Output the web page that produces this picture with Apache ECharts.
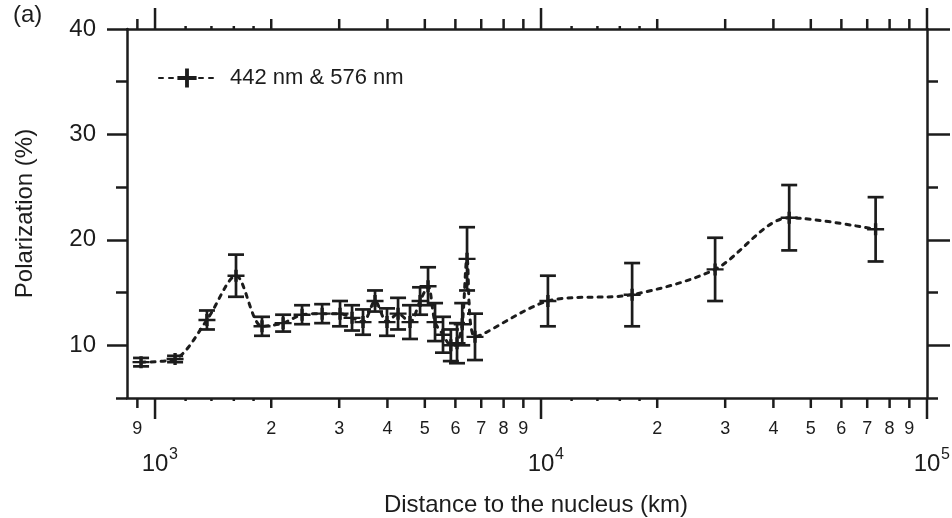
<!DOCTYPE html>
<html>
<head>
<meta charset="utf-8">
<script src="https://cdn.jsdelivr.net/npm/echarts@6/dist/echarts.min.js"></script>
<style>
html, body { margin: 0; padding: 0; background: #fff; }
#chart { width: 952px; height: 518px; }
</style>
</head>
<body>
<div id="chart"></div>
<script>
// distance to the nucleus (km)
var distance = [920, 1127, 1363, 1621, 1893, 2147, 2404, 2710,
    3015, 3239, 3458, 3715, 3990, 4262, 4577, 4860,
    5097, 5314, 5573, 5840, 6059, 6250, 6432, 6745,
    10420, 17220, 28250, 43950, 73600];
// polarization (%)
var polarization = [8.4, 8.7, 12.4, 16.6, 11.8, 12.1, 12.9, 13.0,
    13.0, 12.6, 12.2, 14.2, 12.2, 13.0, 12.2, 14.2,
    15.6, 12.2, 11.0, 10.0, 10.2, 12.0, 18.2, 10.8,
    14.2, 14.8, 17.2, 22.1, 21.0];
// error bar half height (%)
var polError = [0.4, 0.3, 0.9, 2.0, 0.9, 0.8, 0.9, 0.9,
    1.2, 1.2, 1.2, 1.0, 1.3, 1.5, 1.6, 1.3,
    1.8, 1.8, 1.7, 1.5, 1.9, 2.0, 3.0, 2.2,
    2.4, 3.0, 3.0, 3.1, 3.05];

// x axis ticks (log)
var decadeTicks = [1000, 10000, 100000];
var decadeExps = ['3', '4', '5'];
var minorTicks = [900, 2000, 3000, 4000, 5000, 6000, 7000, 8000, 9000,
    20000, 30000, 40000, 50000, 60000, 70000, 80000, 90000];
var minorLabels = ['9', '2', '3', '4', '5', '6', '7', '8', '9',
    '2', '3', '4', '5', '6', '7', '8', '9'];
var tinyTicks = [1200, 1400, 1600, 1800, 12000, 14000, 16000, 18000];
// y axis ticks
var yMajor = [10, 20, 30, 40];
var yMinor = [5, 15, 25, 35];

var xMin = 846, xMax = 100000, yMin = 5, yMax = 40;
var ink = '#1c1c1c';
var font = '"Liberation Sans", Arial, Helvetica, sans-serif';
var seriesName = '442 nm & 576 nm';

var chart = echarts.init(document.getElementById('chart'));

// tick marks on bottom and top axes, drawn through the log scale
function tickSeries(values, len) {
    return {
        type: 'custom',
        silent: true,
        clip: false,
        z: 5,
        data: values.map(function (v) { return [v, yMin]; }),
        encode: { x: 0, y: 1 },
        renderItem: function (params, api) {
            var b = api.coord([api.value(0), yMin]);
            var t = api.coord([api.value(0), yMax]);
            var st = { stroke: ink, lineWidth: 2.5 };
            return {
                type: 'group',
                children: [
                    { type: 'line', shape: { x1: b[0], y1: b[1], x2: b[0], y2: b[1] + len }, style: st },
                    { type: 'line', shape: { x1: t[0], y1: t[1], x2: t[0], y2: t[1] - len }, style: st }
                ]
            };
        }
    };
}

var minorLabelSeries = {
    type: 'custom',
    silent: true,
    clip: false,
    data: minorTicks.map(function (v) { return [v, yMin]; }),
    encode: { x: 0, y: 1 },
    renderItem: function (params, api) {
        var b = api.coord([api.value(0), yMin]);
        return {
            type: 'text',
            style: {
                text: minorLabels[params.dataIndex],
                x: b[0], y: b[1] + 31,
                align: 'center', verticalAlign: 'middle',
                font: '18px ' + font, fill: ink
            }
        };
    }
};

var decadeLabelSeries = {
    type: 'custom',
    silent: true,
    clip: false,
    data: decadeTicks.map(function (v) { return [v, yMin]; }),
    encode: { x: 0, y: 1 },
    renderItem: function (params, api) {
        var b = api.coord([api.value(0), yMin]);
        return {
            type: 'group',
            children: [
                { type: 'text', style: { text: '10', x: b[0], y: b[1] + 66, align: 'center', verticalAlign: 'middle', font: '24px ' + font, fill: ink } },
                { type: 'text', style: { text: decadeExps[params.dataIndex], x: b[0] + 14, y: b[1] + 57, align: 'left', verticalAlign: 'middle', font: '16px ' + font, fill: ink } }
            ]
        };
    }
};

var errorBars = {
    type: 'custom',
    silent: true,
    z: 3,
    data: distance.map(function (d, i) {
        return [d, polarization[i] - polError[i], polarization[i] + polError[i]];
    }),
    encode: { x: 0, y: [1, 2] },
    renderItem: function (params, api) {
        var x = api.value(0);
        var lo = api.coord([x, api.value(1)]);
        var hi = api.coord([x, api.value(2)]);
        var hw = 8;
        var st = { stroke: ink, lineWidth: 2.7 };
        return {
            type: 'group',
            children: [
                { type: 'line', shape: { x1: lo[0], y1: lo[1], x2: hi[0], y2: hi[1] }, style: st },
                { type: 'line', shape: { x1: hi[0] - hw, y1: hi[1], x2: hi[0] + hw, y2: hi[1] }, style: st },
                { type: 'line', shape: { x1: lo[0] - hw, y1: lo[1], x2: lo[0] + hw, y2: lo[1] }, style: st }
            ]
        };
    }
};

function yAxisDef(pos, ticks, len, withLine, withLabels) {
    return {
        type: 'value',
        position: pos,
        min: yMin,
        max: yMax,
        axisLine: { show: withLine, lineStyle: { color: ink, width: 2.5 } },
        axisTick: { show: true, customValues: ticks, length: len, lineStyle: { color: ink, width: 2.5 } },
        axisLabel: { show: withLabels, customValues: ticks, margin: 31, fontSize: 24, color: ink, fontFamily: font },
        splitLine: { show: false }
    };
}

var yLeft = yAxisDef('left', yMajor, 20, true, true);
yLeft.name = 'Polarization (%)';
yLeft.nameLocation = 'middle';
yLeft.nameGap = 90;
yLeft.nameTextStyle = { fontSize: 24, color: ink, fontFamily: font };

var option = {
    backgroundColor: '#fff',
    animation: false,
    title: {
        text: '(a)',
        left: 13,
        top: 3,
        padding: 0,
        textStyle: { fontSize: 24, fontWeight: 'normal', color: ink, fontFamily: font }
    },
    legend: {
        data: [seriesName],
        left: 153,
        top: 62,
        itemWidth: 56,
        itemHeight: 24,
        textStyle: { fontSize: 22, color: ink, fontFamily: font, padding: [0, 0, 0, 10] }
    },
    grid: { left: 127, right: 25, top: 29, bottom: 120, outerBoundsMode: 'none' },
    xAxis: [
        {
            type: 'log',
            position: 'bottom',
            min: xMin,
            max: xMax,
            axisLine: { show: true, lineStyle: { color: ink, width: 2.5 } },
            axisTick: { show: false },
            axisLabel: { show: false },
            splitLine: { show: false },
            name: 'Distance to the nucleus (km)',
            nameLocation: 'middle',
            nameGap: 95,
            nameTextStyle: { fontSize: 24, color: ink, fontFamily: font, padding: [0, 0, 0, 18] }
        },
        {
            type: 'log',
            position: 'top',
            min: xMin,
            max: xMax,
            axisLine: { show: true, lineStyle: { color: ink, width: 2.5 } },
            axisTick: { show: false },
            axisLabel: { show: false },
            splitLine: { show: false }
        }
    ],
    yAxis: [
        yLeft,
        yAxisDef('left', yMinor, 11, false, false),
        yAxisDef('right', yMajor, 23, true, false),
        yAxisDef('right', yMinor, 11, false, false)
    ],
    series: [
        {
            name: seriesName,
            type: 'line',
            data: distance.map(function (d, i) { return [d, polarization[i]]; }),
            smooth: 0.3,
            symbol: 'path://M4,0H6V4H10V6H6V10H4V6H0V4H4Z',
            symbolSize: [17, 12],
            itemStyle: { color: ink },
            lineStyle: { color: ink, width: 3, type: [4, 6], cap: 'round' },
            z: 4
        },
        errorBars,
        tickSeries(decadeTicks, 21),
        tickSeries(minorTicks, 10),
        tickSeries(tinyTicks, 3),
        minorLabelSeries,
        decadeLabelSeries
    ]
};

chart.setOption(option);
</script>
</body>
</html>
